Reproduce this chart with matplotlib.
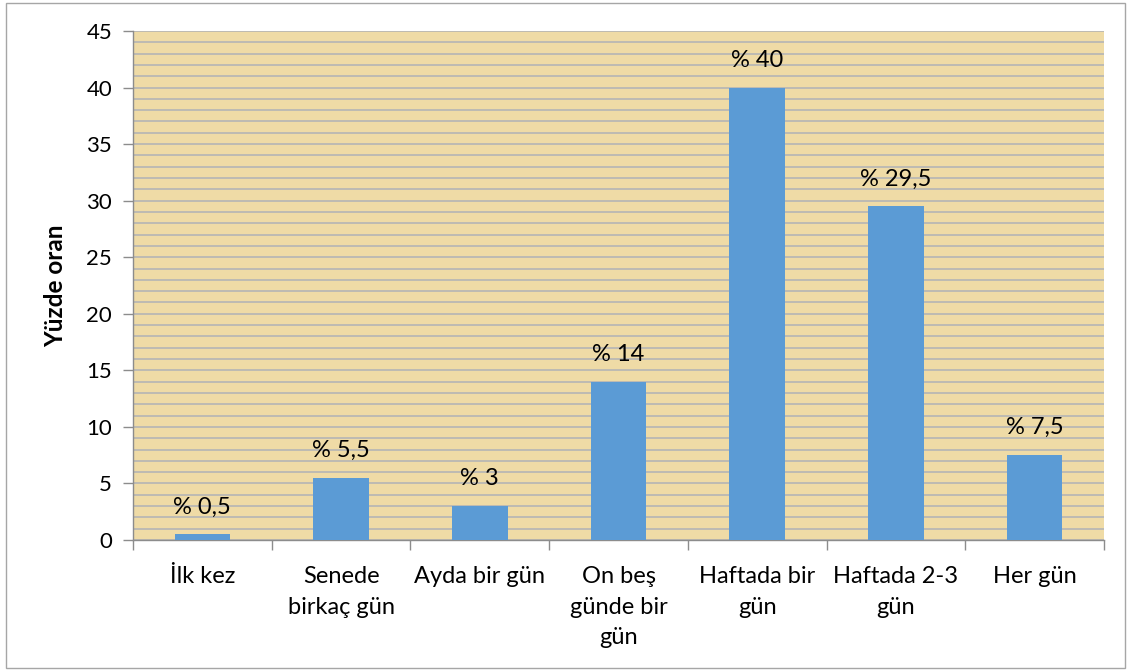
import matplotlib
matplotlib.use("Agg")
import matplotlib.pyplot as plt
from matplotlib.patches import Rectangle
import numpy as np

categories = ["İlk kez", "Senede\nbirkaç gün", "Ayda bir gün", "On beş\ngünde bir\ngün",
              "Haftada bir\ngün", "Haftada 2-3\ngün", "Her gün"]
values = [0.5, 5.5, 3, 14, 40, 29.5, 7.5]
labels = ["% 0,5", "% 5,5", "% 3", "% 14", "% 40", "% 29,5", "% 7,5"]
yticks = [0, 5, 10, 15, 20, 25, 30, 35, 40, 45]

plt.rcParams['font.family'] = ['Lato', 'DejaVu Sans']

fig = plt.figure(figsize=(11.31, 6.70), dpi=100)
ax = fig.add_axes([133/1131, 1-540/670, (1104-133)/1131, (540-31)/670])
ax.set_facecolor('#EFDBA6')

x = np.arange(len(categories))
ax.bar(x, values, width=0.4, color='#5B9BD5', zorder=3)
for xi, v, lab in zip(x, values, labels):
    ax.text(xi, v + 1.5, lab, ha='center', va='bottom', fontsize=17, color='black', zorder=4)

ax.set_xlim(-0.5, len(categories) - 0.5)
ax.set_ylim(0, 45)
ax.set_yticks(yticks)
ax.set_yticks(np.arange(0, 46, 1), minor=True)
ax.tick_params(axis='y', which='minor', length=0)
ax.grid(axis='y', which='both', color='#B5B5B5', linewidth=1.2, zorder=1)
ax.set_axisbelow(True)

ax.set_xticks(np.arange(-0.5, len(categories), 1))
ax.set_xticklabels([])
ax.set_xticks(x, minor=True)
ax.set_xticklabels(categories, minor=True, fontsize=17, linespacing=1.55, va='top')
ax.tick_params(axis='x', which='minor', length=0, pad=19)
ax.tick_params(axis='x', which='major', length=7, color='#8C8C8C', width=1)
ax.tick_params(axis='y', which='major', length=7, color='#8C8C8C', width=1, labelsize=16, pad=8)

for s in ['top', 'right']:
    ax.spines[s].set_visible(False)
for s in ['left', 'bottom']:
    ax.spines[s].set_color('#8C8C8C')
    ax.spines[s].set_linewidth(1)

ax.set_ylabel('Yüzde oran', fontsize=17.5, fontweight='bold', labelpad=14)

fig.patches.append(Rectangle((6/1131, 2/670), 1 - 12/1131, 1 - 5/670, transform=fig.transFigure,
                             fill=False, edgecolor='#A6A6A6', linewidth=1))

fig.savefig('out.png', dpi=100)
